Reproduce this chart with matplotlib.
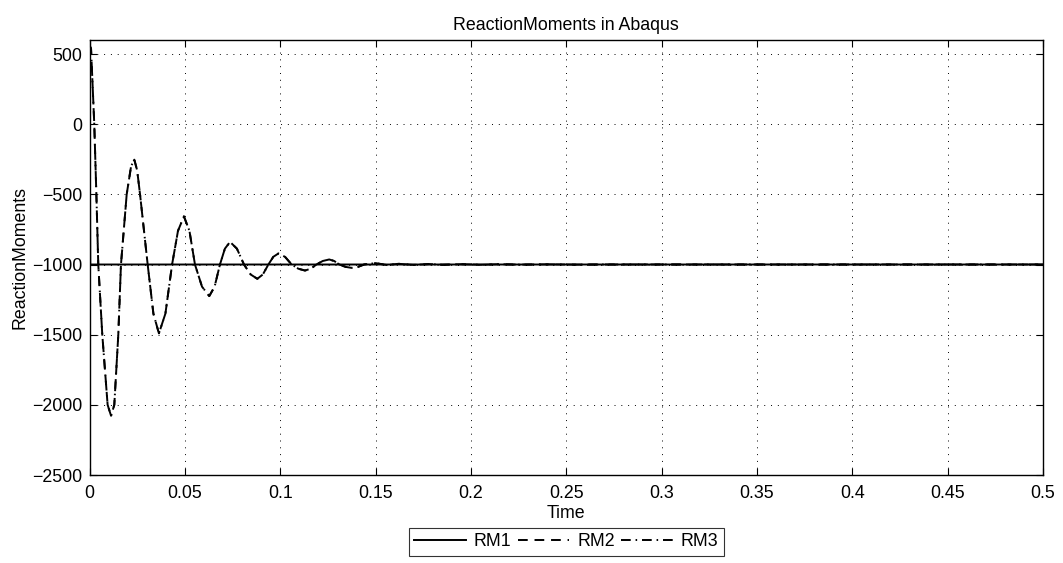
import numpy as np
import matplotlib
matplotlib.use("Agg")
import matplotlib.pyplot as plt

plt.rcParams['font.family'] = ['Liberation Sans', 'DejaVu Sans']

# RM1: jumps from the initial value straight to the static moment
t_rm1 = [0.0, 0.0004, 0.5]
rm1 = [565, -1000, -1000]

# RM2 / RM3 (same response)
t_rm = [0.0, 0.0008, 0.0025, 0.0036, 0.0046, 0.0067, 0.0095, 0.0113,
        0.0130, 0.0151, 0.0165, 0.0195, 0.0218, 0.0235, 0.0250, 0.0265,
        0.0305, 0.0335, 0.0364, 0.0398, 0.0433, 0.0464, 0.0495, 0.0524,
        0.0553, 0.0590, 0.0628, 0.0656, 0.0684, 0.0710, 0.0737, 0.0773,
        0.0810, 0.0845, 0.0880, 0.0909, 0.0938, 0.0964, 0.0990, 0.1025,
        0.1060, 0.1095, 0.1130, 0.1160, 0.1190, 0.1223, 0.1257, 0.1283,
        0.1310, 0.1343, 0.1375, 0.1408, 0.1440, 0.1500, 0.1560, 0.1620,
        0.1700, 0.1780, 0.1850, 0.1950, 0.2050, 0.2150, 0.2250, 0.2400,
        0.2550, 0.2700, 0.5]
rm = [560, 540, 0, -500, -1000, -1500, -2000, -2078,
      -2000, -1500, -1000, -500, -300, -253, -330, -500,
      -1000, -1350, -1491, -1350, -1000, -760, -657, -760,
      -1000, -1158, -1225, -1158, -1000, -887, -839, -887,
      -1000, -1071, -1102, -1071, -1000, -945, -922, -945,
      -1000, -1030, -1043, -1030, -1000, -975, -964, -975,
      -1000, -1017, -1024, -1017, -1000, -990, -1004, -995,
      -1003, -997, -1002, -998, -1002, -998, -1001, -999,
      -1001, -1000, -1000]

fig = plt.figure(figsize=(10.63, 5.63), dpi=100)
ax = fig.add_axes([0.0842, 0.1563, 0.8970, 0.7727])

ax.plot(t_rm1, rm1, color='black', lw=1.4, ls='-', label='RM1')
ax.plot(t_rm, rm, color='black', lw=1.4, ls=(0, (5, 3.5)), label='RM2')
ax.plot(t_rm, rm, color='black', lw=1.4, ls=(0, (5, 2.5, 0.8, 2.5)), label='RM3')

ax.set_xlim(0, 0.5)
ax.set_ylim(-2500, 600)
ax.set_xticks(np.arange(0, 0.51, 0.05))
ax.set_xticklabels(['0', '0.05', '0.1', '0.15', '0.2', '0.25', '0.3',
                    '0.35', '0.4', '0.45', '0.5'])
ax.set_yticks(np.arange(-2500, 501, 500))
ax.set_yticklabels(['\u22122500', '\u22122000', '\u22121500', '\u22121000',
                    '\u2212500', '0', '500'])
ax.tick_params(direction='in', top=True, right=True, length=5,
               labelsize=12.8, width=0.8, pad=5)
ax.tick_params(axis='x', pad=7)
ax.grid(True, color='black', ls=(0, (1, 6)), lw=0.7)
for s in ax.spines.values():
    s.set_linewidth(1.0)

ax.set_title('ReactionMoments in Abaqus', fontsize=12.8, pad=7)
ax.set_xlabel('Time', fontsize=12.8, labelpad=2)
ax.set_ylabel('ReactionMoments', fontsize=12.8, labelpad=3)

leg = ax.legend(loc='upper center', bbox_to_anchor=(0.5, -0.122), ncol=3,
                fontsize=12.8, frameon=True, fancybox=False, handlelength=2.9,
                columnspacing=0.35, handletextpad=0.45, borderpad=0.3,
                borderaxespad=0)
leg.get_frame().set_edgecolor('black')
leg.get_frame().set_linewidth(0.8)

fig.savefig('out.png', dpi=100)
